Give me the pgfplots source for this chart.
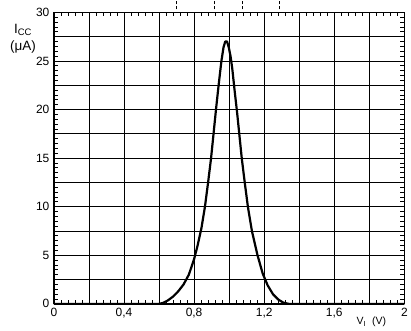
\documentclass[border=0pt]{standalone}
\usepackage{pgfplots}
\pgfplotsset{compat=1.18}
\usepackage{fontspec}
\setmainfont{Liberation Sans}
\pgfplotstableread{
x y
0.00 0
0.60 0
0.62 0.08
0.65 0.35
0.68 0.75
0.71 1.3
0.74 2.0
0.77 3.0
0.80 4.6
0.82 6.0
0.842 7.8
0.862 10.0
0.88 12.5
0.897 15.0
0.911 17.5
0.925 20.0
0.94 22.5
0.956 25.0
0.968 26.4
0.978 27.0
0.988 27.0
0.998 26.4
1.008 25.5
1.018 24.2
1.031 22.0
1.046 19.6
1.059 17.3
1.072 15.0
1.089 12.5
1.107 10.0
1.13 7.5
1.162 5.0
1.192 3.1
1.22 1.9
1.25 1.0
1.28 0.45
1.31 0.12
1.34 0
2.00 0
}\curve
\begin{document}
\begin{tikzpicture}
\begin{axis}[
  scale only axis, width=351pt, height=292pt,
  xmin=0, xmax=2, ymin=0, ymax=30,
  xtick={0,0.2,0.4,0.6,0.8,1,1.2,1.4,1.6,1.8,2},
  xticklabels={0,,{0,4},,{0,8},,{1,2},,{1,6},,2},
  ytick={0,2.5,5,7.5,10,12.5,15,17.5,20,22.5,25,27.5,30},
  yticklabels={0,,5,,10,,15,,20,,25,,30},
  minor xtick={0,0.04,...,2},
  minor ytick={0,0.5,...,30},
  tick align=inside,
  major tick length=4pt, minor tick length=4pt,
  tick style={black, line width=0.7pt},
  grid=major,
  major grid style={black, line width=0.7pt},
  minor grid style={draw=none},
  axis line style={line width=1.1pt},
  tick label style={font=\fontsize{12}{14}\selectfont},
  xticklabel style={yshift=-1pt},
  yticklabel style={xshift=-1pt},
  clip=false,
]
\addplot[black, line width=2.2pt, line join=round] table[x=x,y=y] {\curve};
\node[font=\fontsize{13.5}{17}\selectfont, align=center] at (rel axis cs:0,1) [xshift=-31pt, yshift=-26pt] {I\textsubscript{CC}\\(μA)};
\node[font=\fontsize{10.5}{12}\selectfont] at (rel axis cs:1,0) [xshift=-33pt, yshift=-18pt] {V\textsubscript{I}\ \ (V)};
\draw[densely dashed, line width=0.7pt] (axis cs:0.70,30) ++(0,3pt) -- ++(0,9pt);
\draw[densely dashed, line width=0.7pt] (axis cs:0.913,30) ++(0,3pt) -- ++(0,9pt);
\draw[densely dashed, line width=0.7pt] (axis cs:1.074,30) ++(0,3pt) -- ++(0,9pt);
\draw[densely dashed, line width=0.7pt] (axis cs:1.285,30) ++(0,3pt) -- ++(0,9pt);
\path (rel axis cs:0,1) ++(-54pt,12pt) coordinate (tl);
\path (rel axis cs:1,0) ++(6pt,-24pt) coordinate (br);
\end{axis}
\useasboundingbox (tl) rectangle (br);
\end{tikzpicture}
\end{document}
